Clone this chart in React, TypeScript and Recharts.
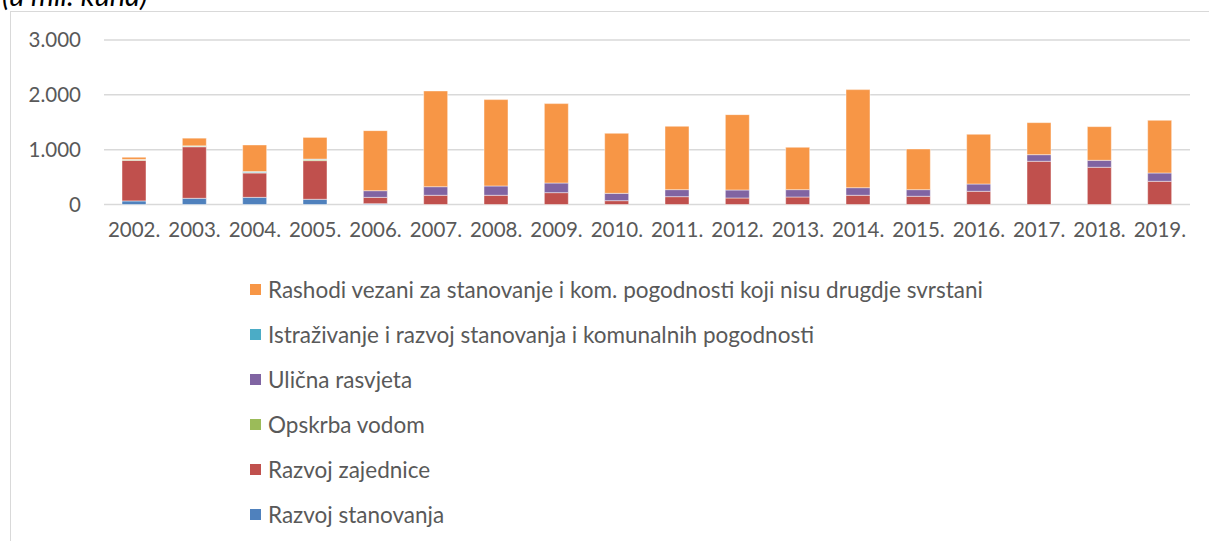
import React from "react";
import { BarChart, Bar, XAxis, YAxis, CartesianGrid } from "recharts";

const years = ["2002.", "2003.", "2004.", "2005.", "2006.", "2007.", "2008.", "2009.", "2010.", "2011.", "2012.", "2013.", "2014.", "2015.", "2016.", "2017.", "2018.", "2019."];

const razvojStanovanja = [65, 113, 130, 95, 15, 0, 0, 0, 0, 0, 0, 0, 0, 0, 0, 0, 0, 0];
const razvojZajednice = [740, 940, 445, 705, 115, 168, 168, 216, 70, 143, 119, 137, 168, 150, 241, 788, 679, 423];
const opskrbaVodom = [12, 12, 10, 18, 0, 0, 0, 0, 0, 0, 0, 0, 0, 0, 0, 0, 0, 0];
const ulicnaRasvjeta = [0, 0, 0, 0, 122, 157, 170, 176, 134, 128, 146, 134, 139, 121, 133, 121, 127, 152];
const istrazivanje = [5, 5, 15, 10, 0, 0, 0, 0, 0, 0, 0, 0, 0, 0, 0, 0, 0, 0];
const rashodiOstalo = [40, 140, 486, 396, 1095, 1746, 1575, 1448, 1095, 1156, 1374, 773, 1788, 742, 907, 584, 614, 961];

const yTicks = [0, 1000, 2000, 3000];
const yTickLabels = ["0", "1.000", "2.000", "3.000"];

const series = [
  { key: "razvojStanovanja", name: "Razvoj stanovanja", color: "#4F81BD", values: razvojStanovanja },
  { key: "razvojZajednice", name: "Razvoj zajednice", color: "#C0504D", values: razvojZajednice },
  { key: "opskrbaVodom", name: "Opskrba vodom", color: "#9BBB59", values: opskrbaVodom },
  { key: "ulicnaRasvjeta", name: "Ulična rasvjeta", color: "#8064A2", values: ulicnaRasvjeta },
  { key: "istrazivanje", name: "Istraživanje i razvoj stanovanja i komunalnih pogodnosti", color: "#4BACC6", values: istrazivanje },
  { key: "rashodiOstalo", name: "Rashodi vezani za stanovanje i kom. pogodnosti koji nisu drugdje svrstani", color: "#F79646", values: rashodiOstalo },
];

const data = years.map((y, i) => {
  const row: Record<string, number | string> = { year: y };
  series.forEach((s) => {
    row[s.key] = s.values[i];
  });
  return row;
});

const FONT = "Lato, 'Open Sans', sans-serif";
const TEXT = "#595959";

export default function App() {
  const legendItems = [...series].reverse();
  return (
    <div style={{ position: "absolute", left: 0, top: 0, width: 1209, height: 541, background: "#fff", overflow: "hidden", fontFamily: FONT }}>
      <div style={{ position: "absolute", left: 10, top: 11, width: 1300, height: 600, borderLeft: "1px solid #d9d9d9", borderTop: "1px solid #d9d9d9" }} />
      <div style={{ position: "absolute", left: 2, top: -22, fontSize: 29, fontStyle: "italic", color: "#000", whiteSpace: "nowrap", lineHeight: "34px" }}>
        (u mil. kuna)
      </div>
      <div style={{ position: "absolute", left: 0, top: 0 }}>
        <BarChart width={1209} height={260} data={data} margin={{ top: 40, right: 19, bottom: 25.5, left: 0 }} barSize={24}>
          <CartesianGrid vertical={false} stroke="#d9d9d9" strokeWidth={1.5} />
          <XAxis
            dataKey="year"
            axisLine={false}
            tickLine={false}
            tickSize={0}
            tickMargin={18}
            height={30}
            interval={0}
            tick={{ fill: TEXT, fontSize: 20.5, fontFamily: FONT }}
          />
          <YAxis
            domain={[0, 3000]}
            ticks={yTicks}
            tickFormatter={(v: number) => yTickLabels[yTicks.indexOf(v)]}
            axisLine={false}
            tickLine={false}
            tickSize={0}
            tickMargin={23}
            width={104}
            tick={{ fill: TEXT, fontSize: 20.5, fontFamily: FONT }}
          />
          {series.map((s) => (
            <Bar
              key={s.key}
              dataKey={s.key}
              name={s.name}
              stackId="a"
              fill={s.color}
              stroke="#ffffff"
              strokeOpacity={0.45}
              strokeWidth={1}
              isAnimationActive={false}
            />
          ))}
        </BarChart>
      </div>
      {legendItems.map((s, i) => (
        <div
          key={s.key}
          style={{ position: "absolute", left: 250, top: 289 + i * 45 - 15, height: 30, display: "flex", alignItems: "center", whiteSpace: "nowrap" }}
        >
          <div style={{ width: 11, height: 11, background: s.color, marginRight: 7 }} />
          <span style={{ fontSize: 22.5, color: TEXT, fontFamily: FONT }}>{s.name}</span>
        </div>
      ))}
    </div>
  );
}
